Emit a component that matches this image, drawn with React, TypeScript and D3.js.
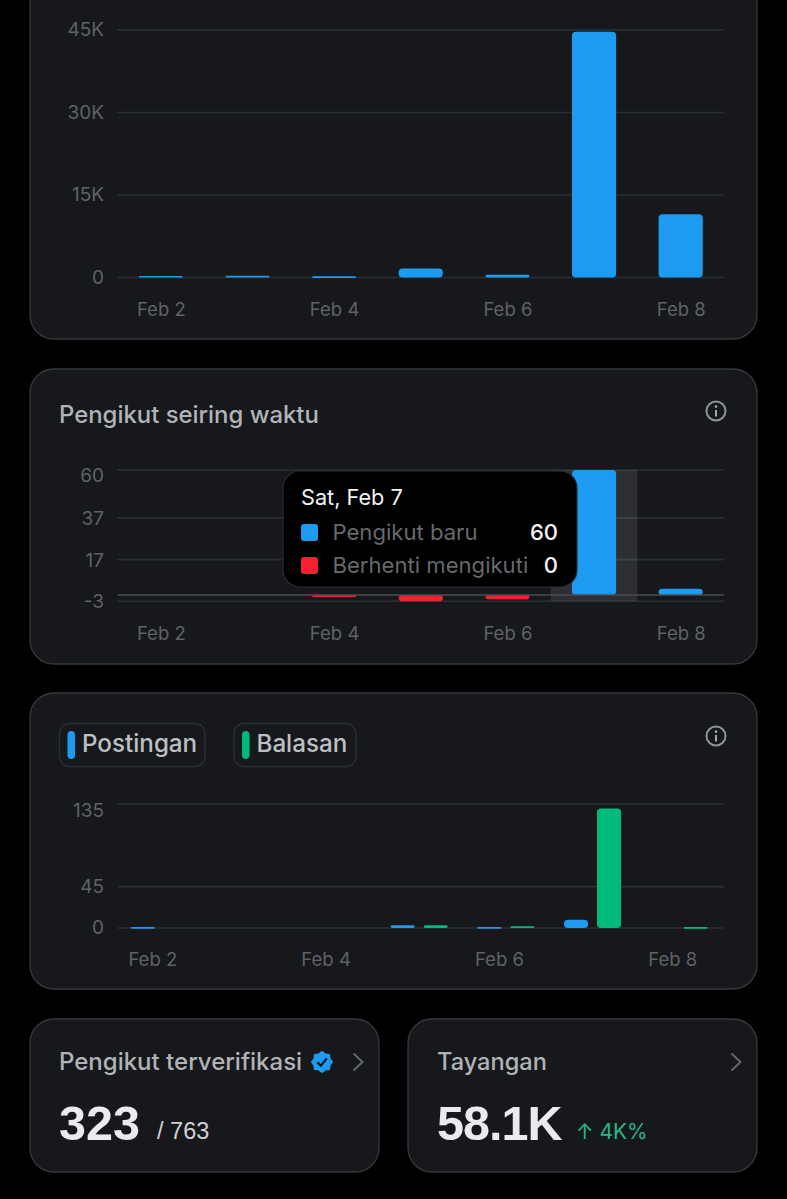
import React, { useEffect, useRef } from "react";
import * as d3 from "d3";

const days = ["Feb 2", "Feb 3", "Feb 4", "Feb 5", "Feb 6", "Feb 7", "Feb 8"];
const dayTicks = ["Feb 2", "Feb 4", "Feb 6", "Feb 8"];

const viewsValues = [280, 300, 220, 1650, 520, 44700, 11500];
const viewsTicks = [0, 15000, 30000, 45000];

const newFollowers = [0, 0, 0, 0, 0, 60, 3];
const unfollowers = [0, 0, -1, -3, -2, 0, 0];
const followerTicks = [-3, 17, 37, 60];

const posts = [1, 0, 0, 3, 1, 9, 0];
const replies = [0, 0, 0, 3, 2, 130, 1];
const postTicks = [0, 45, 135];

const tooltipRows = [
  { label: "Pengikut baru", value: "60", color: "#1d9bf0" },
  { label: "Berhenti mengikuti", value: "0", color: "#f4212e" },
];

const BLUE = "#1d9bf0";
const RED = "#f4212e";
const GREEN = "#00ba7c";
const CARD = "#16181c";
const CARD_LINE = "#36393d";
const GRID = "#2b2e32";
const TICK = "#5f6266";
const TITLE = "#b1b4b7";
const FONT = "Inter, sans-serif";
const BIG_FONT = "'Liberation Sans', Arial, sans-serif";

const xLeft = 117.5;
const xRight = 724;

function card(svg, x, y, w, h) {
  svg
    .append("rect")
    .attr("x", x)
    .attr("y", y)
    .attr("width", w)
    .attr("height", h)
    .attr("rx", 24)
    .attr("fill", CARD)
    .attr("stroke", CARD_LINE)
    .attr("stroke-width", 1.3);
}

function label(svg, text, x, y, size, color, opts: any = {}) {
  return svg
    .append("text")
    .attr("x", x)
    .attr("y", y)
    .attr("font-size", size)
    .attr("fill", color)
    .attr("font-family", opts.family || FONT)
    .attr("font-weight", opts.weight || 400)
    .attr("text-anchor", opts.anchor || "start")
    .attr("letter-spacing", opts.spacing || 0)
    .text(text);
}

function infoIcon(svg, cx, cy) {
  const g = svg.append("g").attr("transform", `translate(${cx},${cy})`);
  g.append("circle")
    .attr("r", 9.5)
    .attr("fill", "none")
    .attr("stroke", "#8f9296")
    .attr("stroke-width", 2);
  g.append("rect").attr("x", -1).attr("y", -1).attr("width", 2).attr("height", 6.5).attr("fill", "#a5a8ab");
  g.append("circle").attr("cy", -4.4).attr("r", 1.3).attr("fill", "#a5a8ab");
}

function chevron(svg, x, y) {
  const line = d3.line();
  svg
    .append("path")
    .attr("d", line([[x - 4.5, y - 8.5], [x + 4.5, y], [x - 4.5, y + 8.5]]))
    .attr("fill", "none")
    .attr("stroke", "#63666a")
    .attr("stroke-width", 2);
}

function badge(svg, cx, cy) {
  const g = svg.append("g").attr("transform", `translate(${cx},${cy})`);
  const shape = d3
    .lineRadial()
    .angle((d) => d[0])
    .radius((d) => d[1])
    .curve(d3.curveCardinalClosed);
  const pts = d3.range(16).map((i) => [(i * Math.PI) / 8, i % 2 ? 9.3 : 11]);
  g.append("path").attr("d", shape(pts)).attr("fill", BLUE);
  g.append("path")
    .attr("d", d3.line()([[-4.6, 0.4], [-1.2, 3.6], [4.8, -3.6]]))
    .attr("fill", "none")
    .attr("stroke", "#10141a")
    .attr("stroke-width", 2.2);
}

function yAxis(svg, y, ticks, format) {
  const g = svg.append("g").attr("transform", `translate(${xLeft},0)`);
  g.call(
    d3
      .axisLeft(y)
      .tickValues(ticks)
      .tickFormat(format)
      .tickSizeInner(-(xRight - xLeft))
      .tickSizeOuter(0)
      .tickPadding(13.5)
      .offset(0),
  );
  g.select(".domain").remove();
  g.selectAll("line").attr("stroke", GRID).attr("stroke-width", 1.6);
  g.selectAll("text").attr("fill", TICK).attr("font-size", 19).attr("font-family", FONT);
  return g;
}

function xAxis(svg, x, baseline, shift = 0) {
  const g = svg.append("g").attr("transform", `translate(${shift},${baseline})`);
  g.call(d3.axisBottom(x).tickValues(dayTicks).tickSize(0).tickPadding(0).offset(0));
  g.select(".domain").remove();
  g.selectAll("text")
    .attr("y", 0)
    .attr("dy", 0)
    .attr("fill", TICK)
    .attr("font-size", 18.5)
    .attr("font-family", FONT);
}

function bars(svg, values, x, y, color, width?, dx?) {
  const w = width ?? x.bandwidth();
  svg
    .append("g")
    .selectAll("rect")
    .data(values.map((v, i) => ({ v, day: days[i] })).filter((d) => d.v !== 0))
    .join("rect")
    .attr("x", (d) => x(d.day) + (dx ?? 0))
    .attr("y", (d) => Math.min(y(d.v), y(0)))
    .attr("width", w)
    .attr("height", (d) => Math.max(Math.abs(y(d.v) - y(0)), 1.6))
    .attr("rx", (d) => Math.min(4, Math.abs(y(d.v) - y(0)) / 2 + 0.6))
    .attr("fill", color);
}

function dayScale() {
  return d3.scaleBand().domain(days).range([xLeft, xRight]).paddingInner(0.49).paddingOuter(0.245);
}

function viewsChart(svg) {
  card(svg, 30, -40, 727, 379);
  const x = dayScale();
  const y = d3.scaleLinear().domain([0, 45000]).range([277.5, 30]);
  yAxis(svg, y, viewsTicks, (d) => (d === 0 ? "0" : `${d / 1000}K`));
  bars(svg, viewsValues, x, y, BLUE);
  xAxis(svg, x, 315.5, 0.5);
}

function followersChart(svg) {
  card(svg, 30, 369, 727, 295);
  label(svg, "Pengikut seiring waktu", 59, 423, 23.9, TITLE, { weight: 500 });
  infoIcon(svg, 716, 411);

  const x = dayScale();
  const y = d3.scaleLinear().domain([0, 60]).range([595, 470]);
  const axis = yAxis(svg, y, followerTicks, (d) => `${d}`);
  axis.selectAll("text").attr("dy", "0.37em");
  // the top label is pushed down so it stays inside the plot
  axis.selectAll("text").filter((d) => d === 60).attr("dy", "0.62em");

  const full = x.step();
  svg
    .append("rect")
    .attr("x", x("Feb 7") + x.bandwidth() / 2 - full / 2)
    .attr("y", y(60))
    .attr("width", full)
    .attr("height", y(-3) - y(60))
    .attr("fill", "#ffffff")
    .attr("opacity", 0.1);

  bars(svg, unfollowers, x, y, RED);
  bars(svg, newFollowers, x, y, BLUE);
  svg
    .append("line")
    .attr("x1", xLeft)
    .attr("x2", xRight)
    .attr("y1", y(0))
    .attr("y2", y(0))
    .attr("stroke", "#4a4d51")
    .attr("stroke-width", 1.6);
  xAxis(svg, x, 639.5, 0.5);

  // tooltip
  svg
    .append("rect")
    .attr("x", 283)
    .attr("y", 471)
    .attr("width", 294)
    .attr("height", 116)
    .attr("rx", 17)
    .attr("fill", "#000")
    .attr("stroke", "#2a2c30")
    .attr("stroke-width", 1.2);
  label(svg, "Sat, Feb 7", 301, 505, 21.7, "#f2f3f4");
  tooltipRows.forEach((row, i) => {
    const rowY = 524 + i * 33;
    svg
      .append("rect")
      .attr("x", 301)
      .attr("y", rowY)
      .attr("width", 17)
      .attr("height", 17)
      .attr("rx", 3)
      .attr("fill", row.color);
    label(svg, row.label, 332.5, rowY + 15.5, 22.1, "#66696d");
    label(svg, row.value, 558, rowY + 15.5, 22, "#f2f3f4", { anchor: "end", weight: 500 });
  });
}

function legendPill(svg, x, w, text, color) {
  svg
    .append("rect")
    .attr("x", x)
    .attr("y", 723.5)
    .attr("width", w)
    .attr("height", 43)
    .attr("rx", 10)
    .attr("fill", "none")
    .attr("stroke", "#2c2f33")
    .attr("stroke-width", 1.3);
  svg
    .append("rect")
    .attr("x", x + 8)
    .attr("y", 731)
    .attr("width", 7.5)
    .attr("height", 28)
    .attr("rx", 3.7)
    .attr("fill", color);
  label(svg, text, x + 22.5, 752, 24.2, "#bdc0c3", { weight: 500 });
}

function postsChart(svg) {
  card(svg, 30, 693, 727, 296);
  legendPill(svg, 59.5, 145.5, "Postingan", BLUE);
  legendPill(svg, 234, 122, "Balasan", GREEN);
  infoIcon(svg, 716, 736);

  const x = d3.scaleBand().domain(days).range([xLeft, xRight]);
  const series = d3.scaleBand().domain(["post", "reply"]).range([8.8, 74.8]).paddingInner(0.27).paddingOuter(0.135);
  const y = d3.scaleLinear().domain([0, 135]).range([928, 804]);
  const axis = yAxis(svg, y, postTicks, (d) => `${d}`);
  axis.selectAll("text").filter((d) => d === 135).attr("dy", "0.68em");
  bars(svg, posts, x, y, BLUE, series.bandwidth(), series("post"));
  bars(svg, replies, x, y, GREEN, series.bandwidth(), series("reply"));
  xAxis(svg, x, 966, -8);
}

function statCards(svg) {
  card(svg, 30, 1019, 349, 153);
  label(svg, "Pengikut terverifikasi", 59, 1070, 24, TITLE, { weight: 500 });
  badge(svg, 322, 1062);
  chevron(svg, 358, 1062);
  label(svg, "323", 59, 1139.5, 48.5, "#e9ebed", { weight: 700, family: BIG_FONT });
  label(svg, "/ 763", 157, 1139, 23.5, "#d0d2d4", { family: BIG_FONT });

  card(svg, 408, 1019, 349, 153);
  label(svg, "Tayangan", 437, 1070, 23.6, TITLE, { weight: 500 });
  chevron(svg, 736, 1062);
  label(svg, "58.1K", 437, 1139.5, 48.5, "#e9ebed", { weight: 700, family: BIG_FONT, spacing: -1 });
  label(svg, "↑ 4K%", 576, 1139, 21, "#2cb583");
}

export default function App() {
  const svgRef = useRef(null);

  useEffect(() => {
    if (!svgRef.current) return;
    const svg = d3.select(svgRef.current);
    svg.selectAll("*").remove();
    svg.append("rect").attr("width", 787).attr("height", 1199).attr("fill", "#000");
    viewsChart(svg);
    followersChart(svg);
    postsChart(svg);
    statCards(svg);
  }, []);

  return (
    <svg
      ref={svgRef}
      width={787}
      height={1199}
      style={{ position: "absolute", left: 0, top: 0, display: "block" }}
    />
  );
}
